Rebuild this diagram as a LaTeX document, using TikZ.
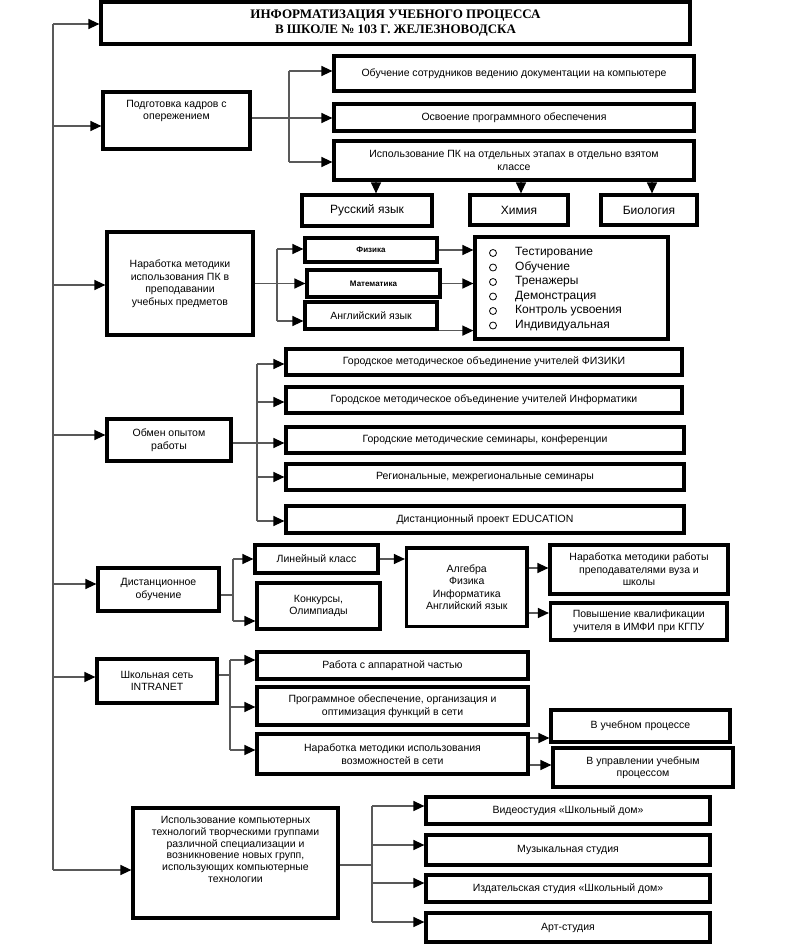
\documentclass[tikz,border=0pt]{standalone}
\usepackage{fontspec}
\setmainfont{Liberation Sans}
\newfontfamily\ttlfont{Liberation Serif}
\usetikzlibrary{arrows.meta}
\newcommand\fsbox{\fontsize{10.5}{12.5}\selectfont}
\newcommand\fsbig{\fontsize{12}{14}\selectfont}
\newcommand\fstiny{\fontsize{8}{9}\selectfont\bfseries}
\newcommand\fsttl{\ttlfont\bfseries\fontsize{13}{14.5}\selectfont}
\newcommand\fsisp{\fontsize{10.5}{11.8}\selectfont}
\begin{document}
\begin{tikzpicture}[x=1pt,y=-1pt,
 box/.style={draw, line width=3.2pt, inner sep=1pt, align=center, font=\fsbox},
 txt/.style={inner sep=0pt, align=center, font=\fsbox},
 con/.style={draw=black!65, line width=1.3pt},
 arr/.style={con, -{Triangle[length=11pt,width=10pt,color=black]}},
 circ/.style={circle, draw, line width=0.8pt, minimum size=7pt, inner sep=0pt},
 item/.style={inner sep=0pt, anchor=west, font=\fsbig}]
\fill[white] (0,0) rectangle (791,947);
\useasboundingbox (0,0) rectangle (791,947);

% title
\node[box, minimum width=589pt, minimum height=42pt, font=\fsttl] (title) at (395.5,23) {ИНФОРМАТИЗАЦИЯ УЧЕБНОГО ПРОЦЕССА\\В ШКОЛЕ № 103 Г. ЖЕЛЕЗНОВОДСКА};

% block 1
\node[box, minimum width=147pt, minimum height=57pt] (pod) at (176.5,120.5) {};
\node[txt, anchor=north] (podt) at (176.5,100) {Подготовка кадров с\\опережением};
\node[box, minimum width=360pt, minimum height=35pt] (obuch) at (514,73.5) {Обучение сотрудников ведению документации на компьютере};
\node[box, minimum width=360pt, minimum height=27pt] (osv) at (514,117.5) {Освоение программного обеспечения};
\node[box, minimum width=360pt, minimum height=39pt] (ispol) at (514,160.5) {Использование ПК на отдельных этапах в отдельно взятом\\классе};
\node[box, minimum width=130pt, minimum height=31pt, font=\fsbig] (rus) at (367,210.5) {Русский язык};
\node[box, minimum width=98pt, minimum height=30pt, font=\fsbig] (him) at (519,210) {Химия};
\node[box, minimum width=96pt, minimum height=30pt, font=\fsbig] (bio) at (649,210) {Биология};

% block 2
\node[box, minimum width=146pt, minimum height=103pt] (nar) at (180,283.5) {Наработка методики\\использования ПК в\\преподавании\\учебных предметов};
\node[box, minimum width=132pt, minimum height=24pt, font=\fstiny] (fiz) at (371,250) {Физика};
\node[box, minimum width=133pt, minimum height=27pt, font=\fstiny] (mat) at (373.5,283.5) {Математика};
\node[box, minimum width=132pt, minimum height=27pt] (ang) at (371,315.5) {Английский язык};
\node[box, minimum width=193pt, minimum height=102pt] (list) at (571.5,288) {};
\node[circ] (c1) at (493,253) {};
\node[circ] (c2) at (493,267.5) {};
\node[circ] (c3) at (493,282) {};
\node[circ] (c4) at (493,296.5) {};
\node[circ] (c5) at (493,311) {};
\node[circ] (c6) at (493,325.5) {};
\node[item] (i1) at (515,253) {Тестирование};
\node[item] (i2) at (515,267.5) {Обучение};
\node[item] (i3) at (515,282) {Тренажеры};
\node[item] (i4) at (515,296.5) {Демонстрация};
\node[item] (i5) at (515,311) {Контроль усвоения};
\node[item] (i6) at (515,325.5) {Индивидуальная};

% block 3
\node[box, minimum width=124pt, minimum height=42pt] (obm) at (169,440) {Обмен опытом\\работы};
\node[box, minimum width=396pt, minimum height=26pt] (g1) at (484,362) {Городское методическое объединение учителей ФИЗИКИ};
\node[box, minimum width=396pt, minimum height=26pt] (g2) at (484,400) {Городское методическое объединение учителей Информатики};
\node[box, minimum width=398pt, minimum height=26pt] (g3) at (485,440) {Городские методические семинары, конференции};
\node[box, minimum width=398pt, minimum height=26pt] (g4) at (485,477) {Региональные, межрегиональные семинары};
\node[box, minimum width=398pt, minimum height=27pt] (g5) at (485,519.5) {Дистанционный проект EDUCATION};

% block 4
\node[box, minimum width=121pt, minimum height=43pt] (dist) at (158.5,589.5) {Дистанционное\\обучение};
\node[box, minimum width=123pt, minimum height=28pt] (lin) at (316.5,559) {Линейный класс};
\node[box, minimum width=123pt, minimum height=46pt] (konk) at (318.5,606) {Конкурсы,\\Олимпиады};
\node[box, minimum width=120.5pt, minimum height=78.5pt] (alg) at (466.75,587.25) {Алгебра\\Физика\\Информатика\\Английский язык};
\node[box, minimum width=178pt, minimum height=49pt] (nrab) at (639,569.5) {Наработка методики работы\\преподавателями вуза и\\школы};
\node[box, minimum width=176.5pt, minimum height=37pt] (pov) at (638.75,621.5) {Повышение квалификации\\учителя в ИМФИ при КГПУ};

% block 5
\node[box, minimum width=120pt, minimum height=44pt] (shk) at (157,681) {Школьная сеть\\INTRANET};
\node[box, minimum width=271pt, minimum height=27pt] (rab) at (392.5,665.5) {Работа с аппаратной частью};
\node[box, minimum width=271pt, minimum height=38pt] (prog) at (392.5,706) {Программное обеспечение, организация и\\оптимизация функций в сети};
\node[box, minimum width=271pt, minimum height=40pt] (nset) at (392.5,754) {Наработка методики использования\\возможностей в сети};
\node[box, minimum width=179pt, minimum height=32pt] (vuch) at (640.5,726) {В учебном процессе};
\node[box, minimum width=180pt, minimum height=39pt] (vupr) at (643,767.5) {В управлении учебным\\процессом};

% block 6
\node[box, minimum width=205pt, minimum height=110pt] (isp) at (235.5,863) {};
\node[txt, anchor=north, font=\fsisp] (ispt) at (235.5,816) {Использование компьютерных\\технологий творческими группами\\различной специализации и\\возникновение новых групп,\\использующих компьютерные\\технологии};
\node[box, minimum width=284pt, minimum height=27pt] (vid) at (568,810.5) {Видеостудия «Школьный дом»};
\node[box, minimum width=284pt, minimum height=30pt] (muz) at (568,850) {Музыкальная студия};
\node[box, minimum width=284pt, minimum height=27pt] (izd) at (568,888.5) {Издательская студия «Школьный дом»};
\node[box, minimum width=284pt, minimum height=29pt] (art) at (568,927.5) {Арт-студия};

% main spine
\coordinate (m0) at (53,24);
\coordinate (m1) at (53,126);
\coordinate (m2) at (53,285);
\coordinate (m3) at (53,435);
\coordinate (m4) at (53,584);
\coordinate (m5) at (53,677);
\coordinate (m6) at (53,870);
\draw[con] (m0) -- (m6);
\draw[arr] (m0) -- (m0 -| title.west);
\draw[arr] (m1) -- (m1 -| pod.west);
\draw[arr] (m2) -- (m2 -| nar.west);
\draw[arr] (m3) -- (m3 -| obm.west);
\draw[arr] (m4) -- (m4 -| dist.west);
\draw[arr] (m5) -- (m5 -| shk.west);
\draw[arr] (m6) -- (m6 -| isp.west);

% block 1 connectors
\coordinate (pb1) at (289,71);
\coordinate (pb2) at (289,118);
\coordinate (pb3) at (289,162);
\draw[con] (pb1) -- (pb3);
\draw[con] (pod.east |- pb2) -- (pb2);
\draw[arr] (pb1) -- (pb1 -| obuch.west);
\draw[arr] (pb2) -- (pb2 -| osv.west);
\draw[arr] (pb3) -- (pb3 -| ispol.west);
\coordinate (d1) at (376,0);
\coordinate (d2) at (521,0);
\coordinate (d3) at (652,0);
\draw[arr] (ispol.south -| d1) -- (rus.north -| d1);
\draw[arr] (ispol.south -| d2) -- (him.north -| d2);
\draw[arr] (ispol.south -| d3) -- (bio.north -| d3);

% block 2 connectors
\coordinate (nb1) at (277,249);
\coordinate (nb3) at (277,321);
\draw[con] (nb1) -- (nb3);
\draw[arr] (nar.east |- mat.west) -- (mat.west);
\draw[arr] (nb1) -- (nb1 -| fiz.west);
\draw[arr] (nb3) -- (nb3 -| ang.west);
\draw[arr] (fiz.east) -- (fiz.east -| list.west);
\draw[arr] (mat.east) -- (mat.east -| list.west);
\draw[arr] (ang.south east) -- (ang.south east -| list.west);

% block 3 connectors
\coordinate (ob1) at (257,364);
\coordinate (ob2) at (257,402);
\coordinate (ob3) at (257,443);
\coordinate (ob4) at (257,477);
\coordinate (ob5) at (257,521);
\draw[con] (ob1) -- (ob5);
\draw[con] (obm.east |- ob3) -- (ob3);
\draw[arr] (ob1) -- (ob1 -| g1.west);
\draw[arr] (ob2) -- (ob2 -| g2.west);
\draw[arr] (ob3) -- (ob3 -| g3.west);
\draw[arr] (ob4) -- (ob4 -| g4.west);
\draw[arr] (ob5) -- (ob5 -| g5.west);

% block 4 connectors
\coordinate (db) at (233,595);
\coordinate (db1) at (233,559);
\coordinate (db2) at (233,621);
\draw[con] (db1) -- (db2);
\draw[con] (dist.east |- db) -- (db);
\draw[arr] (db1) -- (db1 -| lin.west);
\draw[arr] (db2) -- (db2 -| konk.west);
\draw[arr] (lin.east) -- (lin.east -| alg.west);
\coordinate (a1) at (0,568);
\coordinate (a2) at (0,613);
\draw[arr] (alg.east |- a1) -- (nrab.west |- a1);
\draw[arr] (alg.east |- a2) -- (pov.west |- a2);

% block 5 connectors
\coordinate (sb) at (230,675);
\coordinate (sb1) at (230,660);
\coordinate (sb2) at (230,707);
\coordinate (sb3) at (230,750);
\draw[con] (sb1) -- (sb3);
\draw[con] (shk.east |- sb) -- (sb);
\draw[arr] (sb1) -- (sb1 -| rab.west);
\draw[arr] (sb2) -- (sb2 -| prog.west);
\draw[arr] (sb3) -- (sb3 -| nset.west);
\coordinate (n1) at (0,738);
\coordinate (n2) at (0,765);
\draw[arr] (nset.east |- n1) -- (vuch.west |- n1);
\draw[arr] (nset.east |- n2) -- (vupr.west |- n2);

% block 6 connectors
\coordinate (ib) at (372,865);
\coordinate (ib1) at (372,806);
\coordinate (ib2) at (372,845);
\coordinate (ib3) at (372,883);
\coordinate (ib4) at (372,922);
\draw[con] (ib1) -- (ib4);
\draw[con] (isp.east |- ib) -- (ib);
\draw[arr] (ib1) -- (ib1 -| vid.west);
\draw[arr] (ib2) -- (ib2 -| muz.west);
\draw[arr] (ib3) -- (ib3 -| izd.west);
\draw[arr] (ib4) -- (ib4 -| art.west);
\end{tikzpicture}
\end{document}
